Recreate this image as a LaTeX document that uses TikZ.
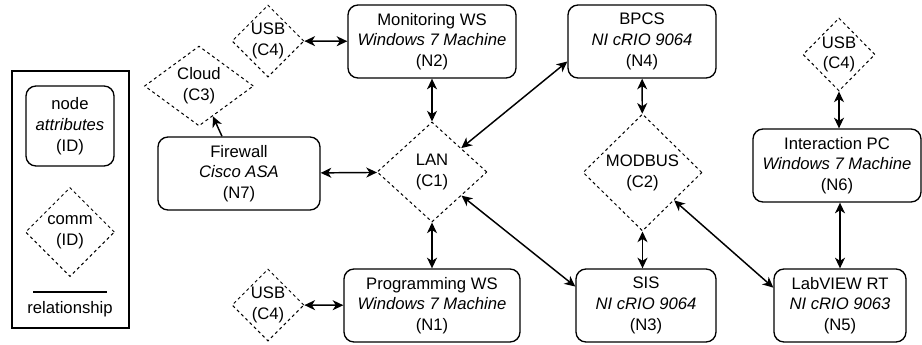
\documentclass[tikz,border=0pt]{standalone}
\usepackage{fontspec}
\setmainfont{Liberation Sans}
\usetikzlibrary{positioning}
\usetikzlibrary{shapes.geometric}
\usetikzlibrary{arrows.meta}
\pgfdeclarelayer{background}
\pgfsetlayers{background,main}

\begin{document}
\begin{tikzpicture}[x=0.75pt,y=-0.75pt,
	devnode/.style={rectangle, rounded corners=7.5pt, draw=black, line width=1pt, align=center, minimum height=54.75pt, inner sep=0pt, font=\fontsize{12.5}{15.6}\selectfont},
	commnode/.style={diamond, draw=black, line width=0.75pt, dash pattern=on 2.25pt off 2.25pt, align=center, inner sep=0pt, font=\fontsize{12.5}{15.6}\selectfont},
	link/.style={line width=1.1pt, {Stealth[length=8pt,width=7.5pt,inset=2.4pt]}-{Stealth[length=8pt,width=7.5pt,inset=2.4pt]}},
	onelink/.style={line width=1.1pt, -{Stealth[length=8pt,width=7.5pt,inset=2.4pt]}},
	]
	\useasboundingbox (0,0) rectangle (922,344);
	%Legend
	\draw[line width=1pt] (12,71) rectangle (129,328);
	\node[devnode, minimum width=66pt, minimum height=60pt] (keynode) at (70,126) {node\\\textit{attributes}\\(ID)};
	\node[commnode, minimum width=66.75pt, minimum height=66.75pt] (keycomm) at (70,232) {comm\\(ID)};
	\coordinate (keyl) at (33,292);
	\coordinate (keyr) at (107,292);
	\draw[line width=1pt] (keyl) -- (keyr);
	\node[font=\fontsize{12.5}{15.6}\selectfont] (keytext) at (70,309) {relationship};
	%Nodes
	\node[devnode, minimum width=126pt]   (n2) at (432,41.5)  {Monitoring WS\\\textit{Windows 7 Machine}\\(N2)};
	\node[devnode, minimum width=132pt]   (n1) at (432,305.5) {Programming WS\\\textit{Windows 7 Machine}\\(N1)};
	\node[devnode, minimum width=111pt]   (n4) at (642,41.5)  {BPCS\\\textit{NI cRIO 9064}\\(N4)};
	\node[devnode, minimum width=105pt]   (n3) at (646,305.5) {SIS\\\textit{NI cRIO 9064}\\(N3)};
	\node[devnode, minimum width=99pt]    (n5) at (840,305.5) {LabVIEW RT\\\textit{NI cRIO 9063}\\(N5)};
	\node[devnode, minimum width=126pt]   (n6) at (837,165.5) {Interaction PC\\\textit{Windows 7 Machine}\\(N6)};
	\node[devnode, minimum width=121.5pt] (n7) at (239,173.5) {Firewall\\\textit{Cisco ASA}\\(N7)};
	\node[commnode, minimum width=82.5pt, minimum height=75pt]  (c1) at (432,172)   {LAN\\(C1)};
	\node[commnode, minimum width=89.25pt, minimum height=87.75pt] (c2) at (642.5,172.5) {MODBUS\\(C2)};
	\node[commnode, minimum width=81.75pt, minimum height=55.5pt] (c3) at (199,86) {Cloud\\(C3)};
	\node[commnode, minimum width=54pt, minimum height=54pt] (c4a) at (268,41)  {USB\\(C4)};
	\node[commnode, minimum width=54pt, minimum height=54pt] (c4b) at (268,305) {USB\\(C4)};
	\node[commnode, minimum width=54pt, minimum height=54.75pt] (c4c) at (839,54.5) {USB\\(C4)};

	\begin{pgfonlayer}{background}
	%Lines
	\draw[link] (c4a) -- (n2);
	\draw[link] (c4b) -- (n1);
	\draw[link] (n2) -- (c1);
	\draw[link] (c1) -- (n1);
	\draw[link] (n7) -- (c1);
	\draw[onelink] (n7) -- (c3);
	\draw[link] (c1) -- (n4.195);
	\draw[link] (c1) -- (n3.165);
	\draw[link] (n4) -- (c2);
	\draw[link] (c2.south) -- (c2.south |- n3.north);
	\draw[link] (c2) -- (n5.165);
	\draw[link] (c4c.south) -- (c4c.south |- n6.north);
	\draw[link] (n5.north |- n6.south) -- (n5.north);
	\end{pgfonlayer}
\end{tikzpicture}
\end{document}
